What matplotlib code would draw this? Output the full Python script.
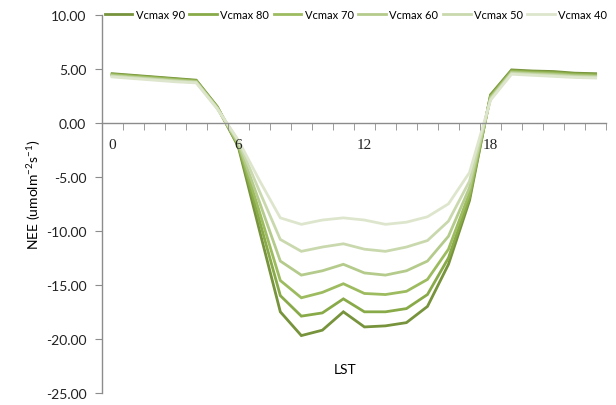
import matplotlib
matplotlib.use("Agg")
import matplotlib.pyplot as plt
from matplotlib.ticker import FixedLocator

hours = list(range(24))
tick_hours = [0, 6, 12, 18]

vcmax_90 = [4.55, 4.40, 4.25, 4.10, 3.95, 1.50, -2.2, -9.9, -17.5, -19.7, -19.2, -17.5,
            -18.9, -18.8, -18.5, -17.0, -13.1, -7.2, 2.6, 4.90, 4.80, 4.75, 4.60, 4.55]
vcmax_80 = [4.50, 4.35, 4.20, 4.05, 3.90, 1.45, -2.1, -9.0, -16.0, -17.9, -17.6, -16.3,
            -17.5, -17.5, -17.2, -15.9, -12.5, -6.9, 2.5, 4.82, 4.72, 4.66, 4.52, 4.47]
vcmax_70 = [4.45, 4.30, 4.15, 4.00, 3.85, 1.42, -2.0, -8.2, -14.6, -16.2, -15.7, -14.9,
            -15.8, -15.9, -15.6, -14.5, -11.7, -6.5, 2.4, 4.74, 4.64, 4.57, 4.44, 4.38]
vcmax_60 = [4.38, 4.23, 4.08, 3.93, 3.80, 1.38, -1.9, -7.3, -12.8, -14.1, -13.7, -13.1,
            -13.9, -14.1, -13.7, -12.8, -10.5, -6.0, 2.3, 4.66, 4.56, 4.48, 4.36, 4.30]
vcmax_50 = [4.32, 4.17, 4.02, 3.87, 3.75, 1.34, -1.7, -6.3, -10.8, -11.9, -11.5, -11.2,
            -11.7, -11.9, -11.5, -10.9, -9.1, -5.4, 2.2, 4.58, 4.48, 4.39, 4.28, 4.22]
vcmax_40 = [4.25, 4.10, 3.95, 3.80, 3.70, 1.30, -1.6, -5.3, -8.8, -9.4, -9.0, -8.8,
            -9.0, -9.4, -9.2, -8.7, -7.5, -4.6, 2.1, 4.50, 4.40, 4.30, 4.20, 4.15]

series = [
    ("Vcmax 90", vcmax_90, "#77933c"),
    ("Vcmax 80", vcmax_80, "#89aa48"),
    ("Vcmax 70", vcmax_70, "#9dbb5f"),
    ("Vcmax 60", vcmax_60, "#b4cb8c"),
    ("Vcmax 50", vcmax_50, "#c9d9ad"),
    ("Vcmax 40", vcmax_40, "#dde6cc"),
]

plt.rcParams["mathtext.fontset"] = "custom"
plt.rcParams["mathtext.rm"] = "Lato"

fig = plt.figure(figsize=(6.16, 4.06), dpi=100)
ax = fig.add_axes([0.165, 0.030, 0.819, 0.931])

for name, vals, col in series:
    ax.plot(hours, vals, color=col, lw=2.0, label=name, solid_joinstyle="miter")

ax.set_xlim(-0.5, 23.5)
ax.set_ylim(-25, 10)
ax.set_yticks(range(-25, 11, 5))
ax.set_yticklabels([f"{v:.2f}" for v in range(-25, 11, 5)],
                   fontfamily="Lato", fontsize=10, color="#222222")

# category axis crossing at zero, marks between hours
ax.spines["bottom"].set_position(("data", 0))
ax.spines["top"].set_visible(False)
ax.spines["right"].set_visible(False)
for s in ("left", "bottom"):
    ax.spines[s].set_color("#8c8c8c")
    ax.spines[s].set_linewidth(1.0)

ax.xaxis.set_major_locator(FixedLocator(tick_hours))
ax.set_xticklabels([str(h) for h in tick_hours], fontfamily="Liberation Serif",
                   fontsize=11, color="#222222")
ax.xaxis.set_minor_locator(FixedLocator([h - 0.5 for h in range(25)]))
ax.tick_params(axis="x", which="major", length=0, pad=11)
ax.tick_params(axis="x", which="minor", length=5, direction="out", color="#8c8c8c")
ax.tick_params(axis="y", length=5, direction="out", color="#8c8c8c", pad=6)
ax.xaxis.set_zorder(3)

fig.text(0.56, 0.088, "LST", fontfamily="Lato", fontsize=10, ha="center", va="center")
fig.text(0.054, 0.52, "NEE (umolm$^{-2}$s$^{-1}$)", fontfamily="Lato", fontsize=10,
         rotation=90, ha="center", va="center")

fig.legend(loc="center", bbox_to_anchor=(0.578, 0.962), ncol=6, frameon=False,
           prop={"family": "Lato", "size": 8}, handlelength=2.5,
           handletextpad=0.3, columnspacing=0.4)

fig.savefig("out.png", dpi=100)
